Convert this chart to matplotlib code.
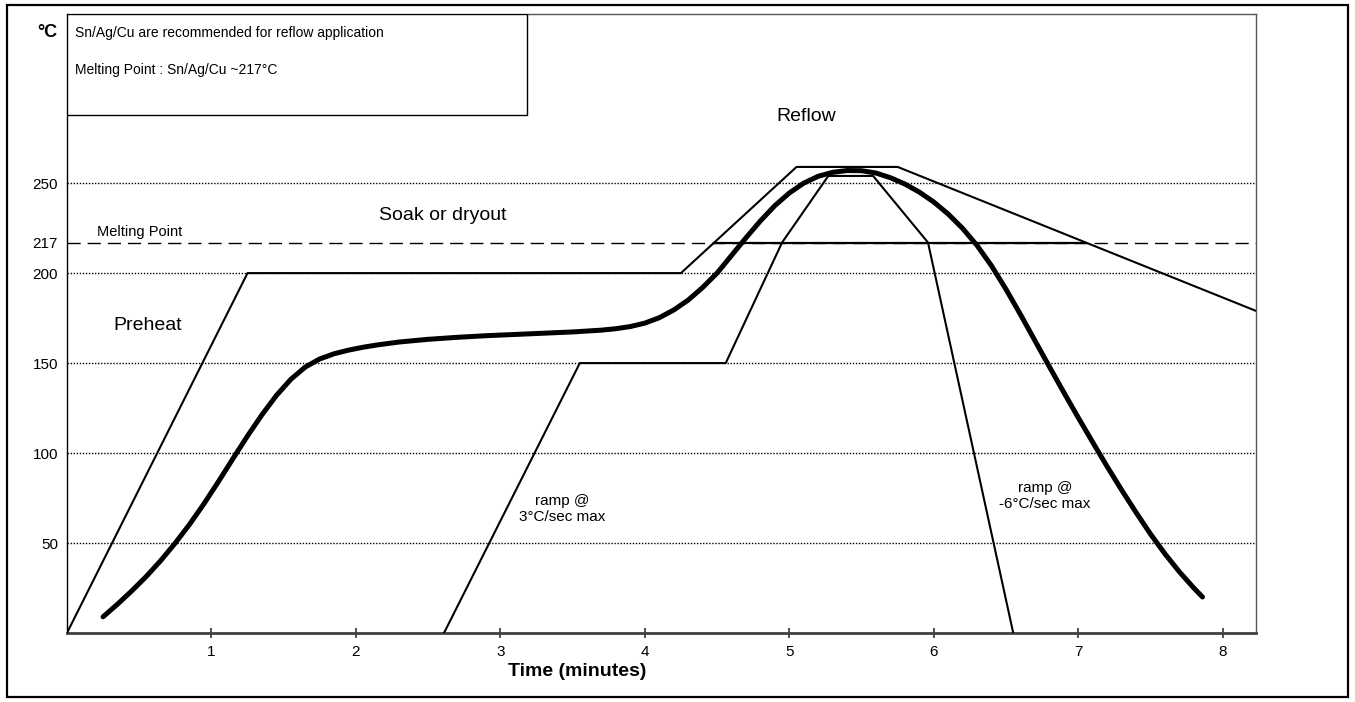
import matplotlib
matplotlib.use('Agg')
import matplotlib.pyplot as plt
from matplotlib.patches import Rectangle

plt.rcParams['font.family'] = ['Liberation Sans', 'DejaVu Sans']

# outer limit of the profile (thin line)
outer_t = [0, 1.25, 4.25, 5.05, 5.75, 8.23]
outer_c = [0, 200, 200, 259, 259, 179]

# inner limit of the profile (thin line)
inner_t = [2.61, 3.55, 4.56, 4.95, 5.27, 5.58, 5.96, 6.55]
inner_c = [0, 150, 150, 217, 254, 254, 217, 0]

# typical reflow profile (thick curve)
prof_t = [0.25, 0.35, 0.45, 0.55, 0.65, 0.75, 0.85, 0.95, 1.05, 1.15, 1.25, 1.35,
          1.45, 1.55, 1.65, 1.75, 1.85, 1.95, 2.05, 2.15, 2.3, 2.5, 2.7, 2.9,
          3.1, 3.3, 3.5, 3.7, 3.8, 3.9, 4.0, 4.1, 4.2, 4.3, 4.4, 4.5,
          4.6, 4.7, 4.8, 4.9, 5.0, 5.1, 5.2, 5.3, 5.4, 5.5, 5.6, 5.7,
          5.8, 5.9, 6.0, 6.1, 6.2, 6.3, 6.4, 6.5, 6.6, 6.7, 6.8, 6.9,
          7.0, 7.1, 7.2, 7.3, 7.4, 7.5, 7.6, 7.7, 7.8, 7.86]
prof_c = [9, 16, 23.5, 31.5, 40.3, 50, 60.5, 72, 84.3, 97, 109.5, 121.3,
          132, 141, 147.8, 152.3, 155.2, 157.2, 158.8, 160.1, 161.7, 163.2, 164.3, 165.2,
          165.9, 166.6, 167.3, 168.3, 169.1, 170.3, 172.2, 175.2, 179.5, 185, 192, 200,
          209.8, 219.6, 229, 237.5, 244.5, 250, 253.8, 256, 257, 256.9, 255.6, 253,
          249.5, 245, 239.5, 232.8, 224.8, 215.3, 204, 191, 177, 162.5, 148, 133.7,
          119.7, 106, 92.5, 79.5, 67, 55, 44, 34, 25, 20]

# solid part of the melting point line (between the outer limits)
melt_t = [4.48, 7.05]
melt_c = [217, 217]

grid_levels = [50, 100, 150, 200, 250]
melt_temp = 217
ytick_vals = [50, 100, 150, 200, 217, 250]
xtick_vals = [1, 2, 3, 4, 5, 6, 7, 8]

fig = plt.figure(figsize=(13.55, 7.02), dpi=100)
ax = fig.add_axes([0.0494, 0.0983, 0.8775, 0.8818])
ax.set_xlim(0, 8.23)
ax.set_ylim(0, 344)

for g in grid_levels:
	ax.axhline(g, color='black', lw=1.0, ls=(0, (1, 1.2)), zorder=1)
ax.axhline(melt_temp, color='black', lw=1.0, ls=(0, (9.5, 5)), zorder=1)

ax.plot(outer_t, outer_c, color='black', lw=1.5, zorder=3)
ax.plot(inner_t, inner_c, color='black', lw=1.5, zorder=3)
ax.plot(melt_t, melt_c, color='black', lw=1.6, zorder=3)
ax.plot(prof_t, prof_c, color='black', lw=3.6, solid_capstyle='round',
        solid_joinstyle='round', zorder=4)

ax.set_xticks(xtick_vals)
ax.set_xticklabels([str(v) for v in xtick_vals])
ax.set_yticks(ytick_vals)
ax.set_yticklabels([str(v) for v in ytick_vals])
ax.tick_params(axis='x', direction='inout', length=7, width=1.2, color='#333333',
               labelsize=11, pad=5.5)
ax.tick_params(axis='y', length=0, labelsize=11, pad=6.5)

ax.spines['left'].set_color('black')
ax.spines['left'].set_linewidth(1.0)
ax.spines['bottom'].set_color('#404040')
ax.spines['bottom'].set_linewidth(2.0)
for s in ['top', 'right']:
	ax.spines[s].set_color('#555555')
	ax.spines[s].set_linewidth(1.0)

ax.set_xlabel('Time (minutes)', fontsize=14, fontweight='bold')
ax.xaxis.set_label_coords(0.429, -0.048)

# phase labels
ax.text(0.56, 171, 'Preheat', fontsize=14, ha='center', va='center')
ax.text(2.6, 232, 'Soak or dryout', fontsize=14, ha='center', va='center')
ax.text(5.12, 287, 'Reflow', fontsize=14, ha='center', va='center')
ax.text(0.5, 223, 'Melting Point', fontsize=10.5, ha='center', va='center')
ax.text(3.43, 69, 'ramp @\n3°C/sec max', fontsize=11, ha='center', va='center',
        linespacing=1.2)
ax.text(6.77, 76, 'ramp @\n-6°C/sec max', fontsize=11, ha='center', va='center',
        linespacing=1.2)

# note box in the upper left corner
ax.add_patch(Rectangle((0, 1 - 0.163), 0.387, 0.163, transform=ax.transAxes,
                       facecolor='white', edgecolor='black', lw=1.0, zorder=5))
ax.text(0.0067, 0.969, 'Sn/Ag/Cu are recommended for reflow application',
        transform=ax.transAxes, fontsize=10, va='center', zorder=6)
ax.text(0.0067, 0.909, 'Melting Point : Sn/Ag/Cu ~217°C',
        transform=ax.transAxes, fontsize=10, va='center', zorder=6)

fig.text(0.0347, 0.953, '°C', fontsize=13, fontweight='bold', ha='center', va='center')

fig.patches.append(Rectangle((0.005, 0.007), 0.990, 0.986, transform=fig.transFigure,
                             fill=False, lw=1.6, edgecolor='black'))

fig.savefig('out.png', dpi=100)
